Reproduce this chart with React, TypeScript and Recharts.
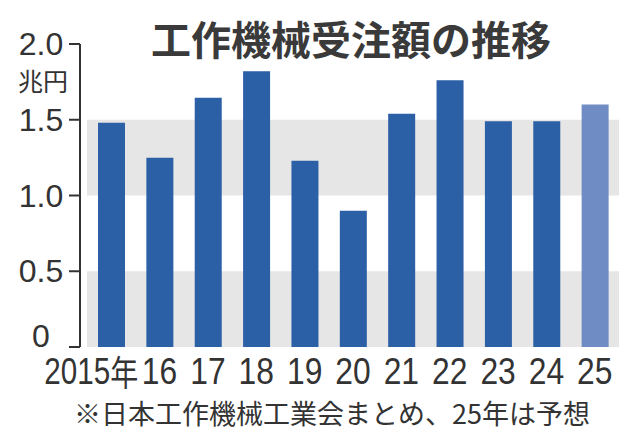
import React from 'react';
import { BarChart, Bar, XAxis, YAxis, ReferenceArea, Cell } from 'recharts';

const years = ['2015年', '16', '17', '18', '19', '20', '21', '22', '23', '24', '25'];
const orders = [1.48, 1.25, 1.645, 1.82, 1.23, 0.9, 1.54, 1.76, 1.49, 1.49, 1.6];
const forecast = [false, false, false, false, false, false, false, false, false, false, true];
const yTicks = [0, 0.5, 1, 1.5, 2];
const yTickLabels = ['0', '0.5', '1.0', '1.5', '2.0'];

const TEXT = '#333';
const NUM_FONT = "'Liberation Sans', Arial, sans-serif";
const JP_FONT = "'Noto Sans CJK JP', sans-serif";

const data = years.map((y, i) => ({ year: y, value: orders[i], forecast: forecast[i] }));

const YTick = (props: any) => {
  const { y, payload } = props;
  const idx = yTicks.indexOf(payload.value);
  const label = idx >= 0 ? yTickLabels[idx] : String(payload.value);
  return (
    <text
      x={41}
      y={payload.value === 0 ? y - 11 : y}
      textAnchor="middle"
      dominantBaseline="central"
      fill={TEXT}
      fontSize={32}
      fontFamily={NUM_FONT}
    >
      {label}
    </text>
  );
};

const XTick = (props: any) => {
  const { x, payload, index } = props;
  const first = index === 0;
  const num = String(payload.value).replace('年', '');
  // tall, narrow figures like the print: squeeze horizontally
  return (
    <g transform={`translate(${first ? x + 27 : x},371) scale(${first ? 0.8 : 0.86},1)`}>
      <text
        x={0}
        y={0}
        textAnchor={first ? 'end' : 'middle'}
        dominantBaseline="central"
        fill={TEXT}
        fontSize={37}
        fontFamily={NUM_FONT}
      >
        {num}
        {first && <tspan fontFamily={JP_FONT} fontSize={35}>年</tspan>}
      </text>
    </g>
  );
};

export default function App() {
  return (
    <div style={{ position: 'absolute', left: 0, top: 0, width: 640, height: 436, background: '#fff' }}>
      <BarChart
        width={640}
        height={436}
        data={data}
        margin={{ top: 44, right: 16, left: 0, bottom: 0 }}
        barCategoryGap={0}
      >
        <ReferenceArea y1={0} y2={0.5} fill="#e6e6e6" fillOpacity={1} stroke="none" ifOverflow="visible" />
        <ReferenceArea y1={1} y2={1.5} fill="#e6e6e6" fillOpacity={1} stroke="none" ifOverflow="visible" />
        <XAxis
          dataKey="year"
          height={89}
          axisLine={false}
          tickLine={false}
          interval={0}
          padding={{ left: 7, right: 5 }}
          tick={(p: any) => <XTick {...p} />}
        />
        <YAxis
          width={80}
          domain={[0, 2]}
          ticks={yTicks}
          axisLine={{ stroke: TEXT, strokeWidth: 2 }}
          tickLine={{ stroke: TEXT, strokeWidth: 2 }}
          tickSize={11}
          tick={(p: any) => <YTick {...p} />}
        />
        <Bar dataKey="value" barSize={27} isAnimationActive={false}>
          {data.map((d, i) => (
            <Cell key={i} fill={d.forecast ? '#6f8cc5' : '#2b5fa6'} />
          ))}
        </Bar>
      </BarChart>
      <svg
        width={640}
        height={436}
        style={{ position: 'absolute', left: 0, top: 0, pointerEvents: 'none' }}
      >
        <text
          x={351}
          y={38}
          textAnchor="middle"
          dominantBaseline="central"
          fill="#3a3a3a"
          fontSize={40}
          fontWeight="bold"
          fontFamily={JP_FONT}
        >
          工作機械受注額の推移
        </text>
        <text
          x={43}
          y={80}
          textAnchor="middle"
          dominantBaseline="central"
          fill={TEXT}
          fontSize={25}
          fontFamily={JP_FONT}
        >
          兆円
        </text>
        <text
          x={332}
          y={412}
          textAnchor="middle"
          dominantBaseline="central"
          fill={TEXT}
          fontSize={27}
          fontFamily={JP_FONT}
        >
          ※日本工作機械工業会まとめ、25年は予想
        </text>
      </svg>
    </div>
  );
}
